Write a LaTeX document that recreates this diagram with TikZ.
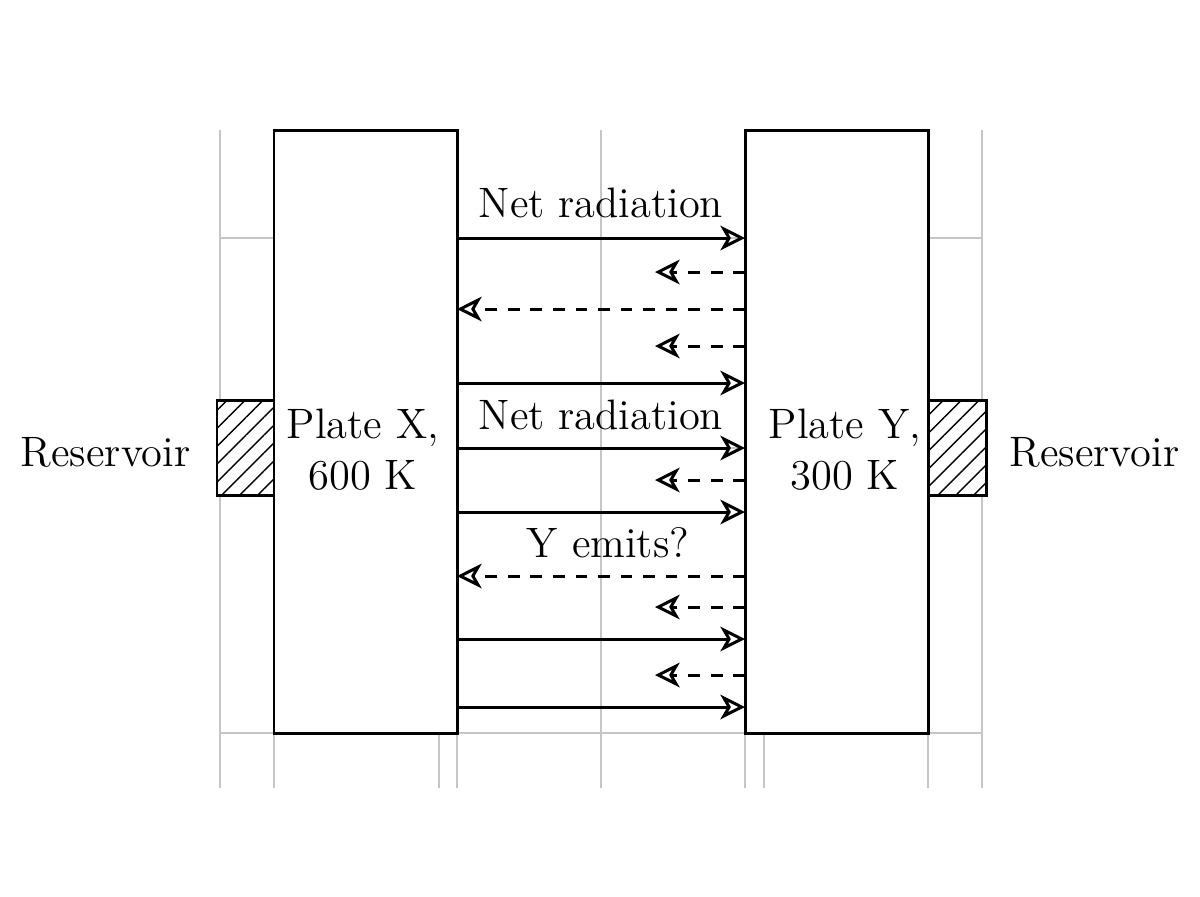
\documentclass[tikz,border=0pt]{standalone}
\usetikzlibrary{arrows.meta,patterns.meta}
\begin{document}
\begin{tikzpicture}[x=0.01cm,y=-0.01cm,
  every node/.style={font=\fontsize{12.1}{14.5}\selectfont},
  gridl/.style={gray!45,line width=0.3pt},
  plate/.style={draw,fill=white,line width=0.85pt},
  res/.style={draw,fill=white,postaction={pattern={Lines[angle=45,distance=3.6pt,line width=0.4pt]}},line width=0.85pt},
  tip/.style={-{Stealth[open,inset=2pt,length=7pt,width=7pt]}},
  fw/.style={line width=0.85pt,tip},
  bw/.style={line width=0.85pt,dash pattern=on 3.4pt off 3pt,tip}]
\useasboundingbox (0,0) rectangle (1200,896);
\foreach \x in {220,274,439,457,601,745,764,928,982} \draw[gridl] (\x,130) -- (\x,788);
\foreach \y in {238,448,733} \draw[gridl] (220,\y) -- (982,\y);
\draw[res] (217,400) rectangle (274,495);
\draw[res] (928,400) rectangle (986,495);
\draw[plate] (274,130) rectangle (457,733);
\draw[plate] (745,130) rectangle (928,733);
\node[align=center] (px) at (363,450) {Plate X,\\600 K};
\node[align=center] (py) at (845,450) {Plate Y,\\300 K};
\node[anchor=east] (rlt) at (203,452) {Reservoir};
\node[anchor=west] (rrt) at (997,452) {Reservoir};
\foreach \y in {238,383,448,512,639,707} {
  \coordinate (a\y) at (457,\y); \coordinate (b\y) at (745,\y);
  \draw[fw] (a\y) -- (b\y);}
\foreach \y in {309,576} {
  \coordinate (c\y) at (745,\y); \coordinate (d\y) at (457,\y);
  \draw[bw] (c\y) -- (d\y);}
\foreach \y in {272,346,480,607,675} {
  \coordinate (e\y) at (745,\y); \coordinate (f\y) at (655,\y);
  \draw[bw] (e\y) -- (f\y);}
\node[anchor=south] (l1) at (601,230) {Net radiation};
\node[anchor=south] (l2) at (601,442) {Net radiation};
\node[anchor=south] (l3) at (608,570) {Y emits?};
\end{tikzpicture}
\end{document}
